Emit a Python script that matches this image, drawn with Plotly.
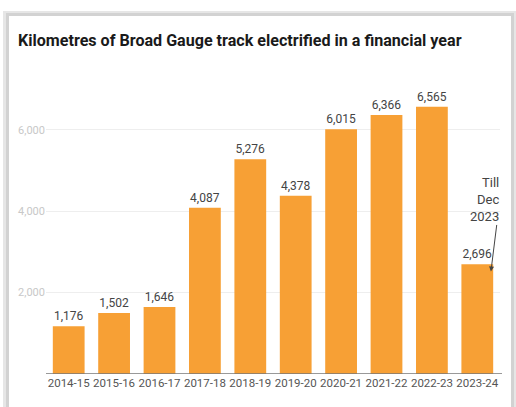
import plotly.graph_objects as go

years = ["2014-15", "2015-16", "2016-17", "2017-18", "2018-19",
         "2019-20", "2020-21", "2021-22", "2022-23", "2023-24"]
km = [1176, 1502, 1646, 4087, 5276, 4378, 6015, 6366, 6565, 2696]
y_ticks = [2000, 4000, 6000]
y_tick_text = ["2,000", "4,000", "6,000"]

W, H = 516, 407
L, R, T, B = 46, 16, 81, 33
pw, ph = W - L - R, H - T - B

def px_x(px):
    return (px - L) / pw

def px_y(py):
    return (H - B - py) / ph

ORANGE = "#F7A035"
BODY = "Roboto, Arial"
TITLE = "Roboto, Arial"

fig = go.Figure()
fig.add_trace(go.Bar(
    x=years, y=km,
    marker=dict(color=ORANGE, line=dict(width=0)),
    texttemplate="%{y:,}", textposition="outside",
    textfont=dict(family=BODY, size=12, color="#444444"),
    cliponaxis=False, hoverinfo="skip",
))

shapes = [
    dict(type="rect", xref="paper", yref="paper", layer="below",
         x0=px_x(3), x1=px_x(516), y0=px_y(407), y1=px_y(11),
         fillcolor="#e6e6e6", line=dict(width=0)),
    dict(type="rect", xref="paper", yref="paper", layer="below",
         x0=px_x(6), x1=px_x(514), y0=px_y(407), y1=px_y(13),
         fillcolor="#d2d2d2", line=dict(width=0)),
    dict(type="rect", xref="paper", yref="paper", layer="below",
         x0=px_x(9), x1=px_x(511), y0=px_y(407), y1=px_y(16),
         fillcolor="white", line=dict(width=0)),
    dict(type="line", xref="paper", yref="y", layer="above",
         x0=px_x(46), x1=px_x(502), y0=0, y1=0,
         line=dict(color="#777777", width=1.5)),
]

annotations = [
    dict(text="<b>Kilometres of Broad Gauge track electrified in a financial year</b>",
         xref="paper", yref="paper", x=px_x(16), y=px_y(41),
         xanchor="left", yanchor="middle", showarrow=False,
         font=dict(family=TITLE, size=16.1, color="#1a1a1a")),
    dict(text="Till<br>Dec<br>2023", xref="paper", yref="paper",
         x=px_x(501), y=px_y(199), xanchor="right", yanchor="middle",
         align="right", showarrow=False,
         font=dict(family=BODY, size=13, color="#444444")),
    dict(text="", x=9.3, y=2520, xref="x", yref="y",
         ax=6, ay=-48, showarrow=True, arrowhead=2, arrowsize=1,
         arrowwidth=1, arrowcolor="#444444"),
]

fig.update_layout(
    width=W, height=H,
    margin=dict(l=L, r=R, t=T, b=B),
    paper_bgcolor="white", plot_bgcolor="rgba(0,0,0,0)",
    bargap=0.3, showlegend=False,
    shapes=shapes, annotations=annotations,
    xaxis=dict(showgrid=False, showline=False, ticks="",
               tickfont=dict(family=BODY, size=11.5, color="#555555")),
    yaxis=dict(range=[0, 7200], tickvals=y_ticks, ticktext=y_tick_text,
               showgrid=True, gridcolor="#eeeeee", gridwidth=1,
               zeroline=False, showline=False, ticks="",
               tickfont=dict(family=BODY, size=11, color="#c8c8c8")),
)

fig.write_html("out.html")
